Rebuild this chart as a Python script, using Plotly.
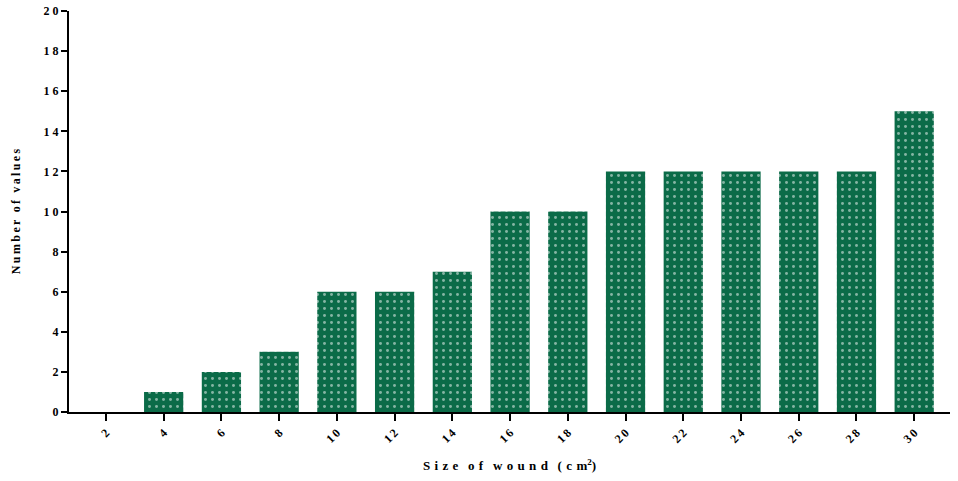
import plotly.graph_objects as go

sizes = ["2", "4", "6", "8", "10", "12", "14", "16", "18", "20", "22", "24", "26", "28", "30"]
counts = [0, 1, 2, 3, 6, 6, 7, 10, 10, 12, 12, 12, 12, 12, 15]
y_ticks = [0, 2, 4, 6, 8, 10, 12, 14, 16, 18, 20]

NB = "\u00a0"
TS = "\u2009"
HS = "\u200a"
def spaced(s, sep=NB):
    return sep.join(list(s))

fig = go.Figure(go.Bar(
    x=sizes, y=counts,
    marker=dict(color="#0b6b48", line=dict(width=0),
                pattern=dict(shape=".", fgcolor="white", bgcolor="#0b6b48", size=7, solidity=0.14)),
))

font = dict(family="Liberation Serif", size=12, color="black", weight="bold")
sep = NB + HS
xtitle = (NB * 3).join([spaced("Size", sep), spaced("of", sep), spaced("wound", sep),
                        spaced("(cm", sep) + "<sup>2</sup>)"])
ytitle = (TS * 3).join([spaced("Number", TS), spaced("of", TS), spaced("values", TS)])
fig.update_layout(
    width=958, height=481,
    margin=dict(l=69, r=8, t=11, b=69),
    paper_bgcolor="white", plot_bgcolor="white",
    bargap=0.32, showlegend=False,
    font=font,
)
fig.update_xaxes(
    type="category", range=[-0.64, 14.62], automargin=False,
    tickvals=sizes, ticktext=[spaced(s, TS) for s in sizes],
    tickangle=-45, ticks="outside", ticklen=7, tickwidth=2, tickcolor="black",
    showline=True, linewidth=2, linecolor="black", showgrid=False, zeroline=False,
    title=dict(text=xtitle,
               font=dict(family="Liberation Serif", size=13, color="black", weight="bold"), standoff=16),
    tickfont=font, ticklabeloverflow="allow",
)
fig.update_yaxes(
    range=[0, 20], automargin=False, tickvals=y_ticks, ticktext=[spaced(str(v), NB) for v in y_ticks],
    ticks="outside", ticklen=6, tickwidth=2, tickcolor="black",
    showline=True, linewidth=2, linecolor="black", showgrid=False, zeroline=False,
    title=dict(text=ytitle,
               font=dict(family="Liberation Serif", size=12, color="black", weight="bold"), standoff=20),
    tickfont=font, ticklabeloverflow="allow",
)
fig.write_html("out.html", config={"displayModeBar": False},
               post_script="document.body.style.margin='0';")
